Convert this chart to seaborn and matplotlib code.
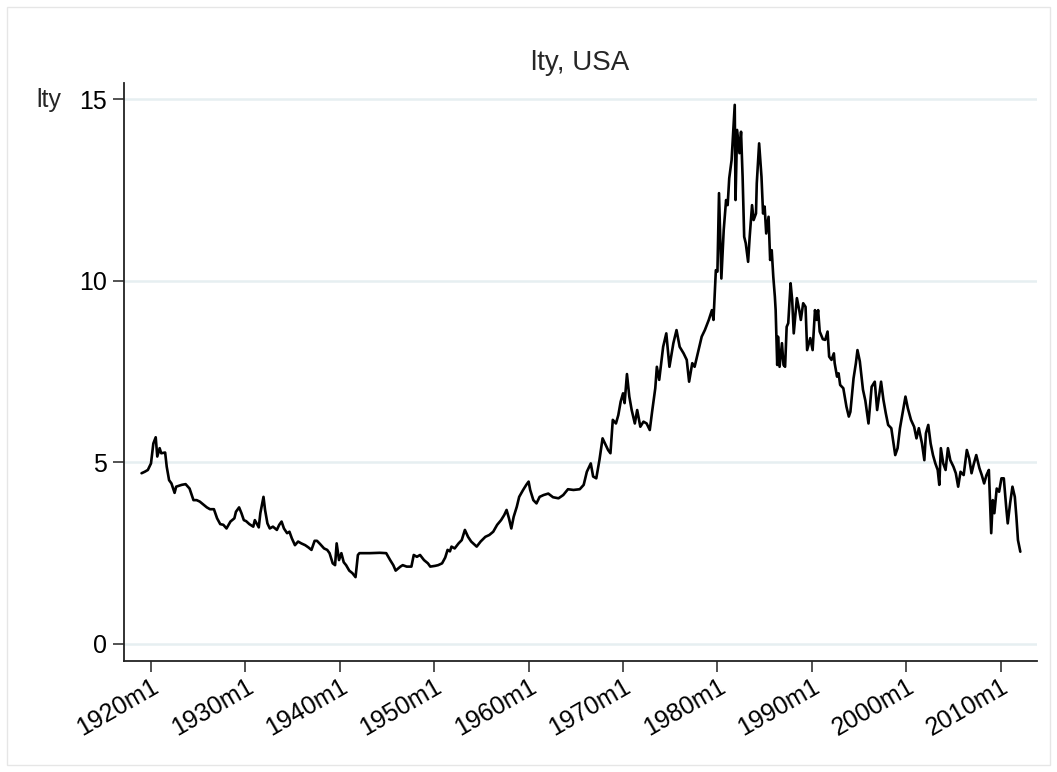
import numpy as np
import pandas as pd
import matplotlib
matplotlib.use("Agg")
import matplotlib.pyplot as plt
from matplotlib.patches import Rectangle
from matplotlib.ticker import FuncFormatter, FixedLocator
import seaborn as sns

# Long-term government bond yield, USA (percent), sampled months
dates = [
    "1919-01", "1919-05", "1919-09", "1920-01", "1920-04", "1920-07", "1920-09", "1920-12",
    "1921-02", "1921-07", "1921-09", "1921-12", "1922-03", "1922-07", "1922-09", "1923-04",
    "1923-09", "1924-02", "1924-07", "1924-11", "1925-03", "1925-08", "1925-12", "1926-04",
    "1926-09", "1927-01", "1927-05", "1927-09", "1928-01", "1928-06", "1928-11", "1929-01",
    "1929-05", "1929-08", "1929-11", "1930-02", "1930-06", "1930-11", "1931-01", "1931-06",
    "1931-08", "1931-12", "1932-02", "1932-05", "1932-08", "1932-12", "1933-05", "1933-08",
    "1933-11", "1934-02", "1934-06", "1934-09", "1934-12", "1935-04", "1935-08", "1935-12",
    "1936-05", "1936-09", "1937-01", "1937-05", "1937-08", "1937-12", "1938-05", "1938-09",
    "1938-12", "1939-04", "1939-07", "1939-09", "1939-12", "1940-03", "1940-06", "1940-09",
    "1941-01", "1941-05", "1941-09", "1941-12", "1942-02", "1943-03", "1944-04", "1944-12",
    "1945-05", "1945-09", "1945-12", "1946-06", "1946-09", "1947-02", "1947-08", "1947-11",
    "1948-03", "1948-07", "1948-12", "1949-05", "1949-08", "1950-02", "1950-06", "1950-11",
    "1951-03", "1951-06", "1951-09", "1951-11", "1952-03", "1952-08", "1952-12", "1953-04",
    "1953-08", "1953-12", "1954-07", "1954-12", "1955-06", "1955-11", "1956-04", "1956-09",
    "1957-02", "1957-06", "1957-09", "1957-12", "1958-03", "1958-06", "1958-10", "1959-01",
    "1959-06", "1959-10", "1960-01", "1960-03", "1960-07", "1960-11", "1961-03", "1961-08",
    "1962-02", "1962-08", "1963-03", "1963-09", "1964-03", "1964-10", "1965-06", "1965-11",
    "1966-03", "1966-08", "1966-11", "1967-03", "1967-07", "1967-11", "1968-02", "1968-06",
    "1968-09", "1968-12", "1969-04", "1969-07", "1969-10", "1970-01", "1970-03", "1970-06",
    "1970-09", "1970-12", "1971-04", "1971-07", "1971-11", "1972-03", "1972-07", "1972-11",
    "1973-02", "1973-06", "1973-08", "1973-11", "1974-04", "1974-08", "1974-12", "1975-05",
    "1975-09", "1976-01", "1976-06", "1976-10", "1977-01", "1977-05", "1977-08", "1978-01",
    "1978-05", "1978-09", "1979-02", "1979-06", "1979-08", "1979-11", "1980-01", "1980-03",
    "1980-06", "1980-09", "1980-12", "1981-02", "1981-04", "1981-07", "1981-09", "1981-11",
    "1981-12", "1982-02", "1982-05", "1982-07", "1982-09", "1982-11", "1983-01", "1983-04",
    "1983-06", "1983-09", "1983-11", "1984-02", "1984-03", "1984-06", "1984-09", "1984-11",
    "1985-01", "1985-03", "1985-06", "1985-08", "1985-10", "1985-12", "1986-02", "1986-03",
    "1986-05", "1986-06", "1986-08", "1986-11", "1987-01", "1987-03", "1987-05", "1987-07",
    "1987-10", "1987-12", "1988-02", "1988-06", "1988-09", "1988-11", "1989-02", "1989-05",
    "1989-07", "1989-11", "1990-02", "1990-05", "1990-07", "1990-09", "1990-11", "1991-03",
    "1991-06", "1991-09", "1991-11", "1992-02", "1992-05", "1992-06", "1992-09", "1992-11",
    "1993-01", "1993-05", "1993-09", "1993-12", "1994-02", "1994-06", "1994-09", "1994-11",
    "1995-02", "1995-06", "1995-09", "1996-01", "1996-05", "1996-09", "1996-12", "1997-05",
    "1997-08", "1997-11", "1998-02", "1998-06", "1998-11", "1999-02", "1999-05", "1999-09",
    "1999-12", "2000-03", "2000-07", "2000-11", "2001-02", "2001-05", "2001-09", "2001-12",
    "2002-02", "2002-05", "2002-08", "2002-11", "2003-02", "2003-05", "2003-07", "2003-09",
    "2003-12", "2004-03", "2004-06", "2004-09", "2005-01", "2005-04", "2005-07", "2005-10",
    "2006-02", "2006-06", "2006-09", "2006-12", "2007-03", "2007-06", "2007-10", "2008-01",
    "2008-04", "2008-07", "2008-10", "2009-01", "2009-03", "2009-05", "2009-08", "2009-11",
    "2010-02", "2010-05", "2010-08", "2010-10", "2011-01", "2011-04", "2011-07", "2011-09",
    "2011-11", "2012-02",
]

lty = [
    4.70, 4.74, 4.79, 4.97, 5.52, 5.69, 5.16, 5.39,
    5.25, 5.27, 4.88, 4.51, 4.42, 4.16, 4.33, 4.38,
    4.40, 4.28, 3.96, 3.96, 3.92, 3.83, 3.76, 3.71,
    3.71, 3.46, 3.30, 3.28, 3.18, 3.37, 3.46, 3.64,
    3.76, 3.60, 3.41, 3.38, 3.30, 3.23, 3.41, 3.21,
    3.60, 4.05, 3.69, 3.32, 3.18, 3.23, 3.14, 3.28,
    3.37, 3.18, 3.05, 3.09, 2.91, 2.72, 2.82, 2.77,
    2.72, 2.66, 2.59, 2.84, 2.84, 2.75, 2.63, 2.59,
    2.50, 2.22, 2.17, 2.77, 2.31, 2.50, 2.25, 2.17,
    2.02, 1.95, 1.84, 2.45, 2.50, 2.50, 2.51, 2.50,
    2.31, 2.17, 2.02, 2.13, 2.17, 2.13, 2.13, 2.45,
    2.40, 2.45, 2.31, 2.22, 2.13, 2.15, 2.17, 2.22,
    2.38, 2.59, 2.55, 2.68, 2.63, 2.77, 2.86, 3.14,
    2.95, 2.82, 2.68, 2.82, 2.95, 3.00, 3.09, 3.28,
    3.41, 3.55, 3.69, 3.46, 3.18, 3.50, 3.78, 4.05,
    4.24, 4.38, 4.47, 4.24, 3.96, 3.87, 4.05, 4.10,
    4.14, 4.04, 4.01, 4.10, 4.26, 4.24, 4.26, 4.38,
    4.74, 4.97, 4.61, 4.56, 5.06, 5.66, 5.52, 5.34,
    5.25, 6.17, 6.07, 6.30, 6.67, 6.90, 6.63, 7.43,
    6.81, 6.44, 6.07, 6.44, 5.98, 6.12, 6.07, 5.89,
    6.40, 7.04, 7.63, 7.27, 8.18, 8.55, 7.63, 8.28,
    8.64, 8.18, 8.00, 7.82, 7.22, 7.73, 7.63, 8.09,
    8.46, 8.64, 8.92, 9.19, 8.92, 10.29, 10.25, 12.41,
    10.06, 11.40, 12.22, 12.08, 12.82, 13.32, 14.06, 14.84,
    12.22, 14.15, 13.51, 14.10, 12.86, 11.21, 11.03, 10.52,
    11.21, 12.08, 11.67, 11.85, 12.68, 13.78, 12.86, 11.85,
    12.04, 11.30, 11.76, 10.57, 10.84, 10.11, 9.56, 9.19,
    7.68, 8.46, 7.63, 8.28, 7.68, 7.63, 8.73, 8.83,
    9.93, 9.47, 8.55, 9.52, 9.19, 8.92, 9.38, 9.28,
    8.09, 8.42, 8.09, 9.19, 8.92, 9.19, 8.60, 8.39,
    8.37, 8.60, 7.91, 7.82, 8.00, 7.73, 7.36, 7.45,
    7.13, 7.04, 6.53, 6.26, 6.39, 7.31, 7.73, 8.09,
    7.78, 7.00, 6.70, 6.07, 7.08, 7.22, 6.44, 7.22,
    6.72, 6.35, 6.03, 5.94, 5.20, 5.39, 5.94, 6.44,
    6.81, 6.49, 6.17, 5.98, 5.66, 5.94, 5.52, 5.06,
    5.80, 6.03, 5.52, 5.20, 4.97, 4.79, 4.38, 5.39,
    4.97, 4.79, 5.39, 5.06, 4.88, 4.70, 4.33, 4.74,
    4.65, 5.34, 5.11, 4.70, 4.97, 5.20, 4.84, 4.65,
    4.42, 4.65, 4.79, 3.05, 3.96, 3.60, 4.28, 4.19,
    4.56, 4.56, 3.78, 3.32, 3.87, 4.33, 4.05, 3.50,
    2.86, 2.54,
]

x_tick_years = [1920, 1930, 1940, 1950, 1960, 1970, 1980, 1990, 2000, 2010]
y_ticks = [0, 5, 10, 15]


def to_monthly(s):
    """Monthly index counted from 1960m1 (Stata %tm convention)."""
    y, m = s.split("-")
    return (int(y) - 1960) * 12 + int(m) - 1


def tm_label(v, _pos=None):
    v = int(round(v))
    return f"{1960 + v // 12}m{v % 12 + 1}"


df = pd.DataFrame({"month": [to_monthly(d) for d in dates], "lty": lty})

sns.set_theme(style="white")
plt.rcParams["font.family"] = ["Liberation Sans", "DejaVu Sans"]

fig = plt.figure(figsize=(10.57, 7.72), dpi=100)
fig.patch.set_facecolor("white")
ax = fig.add_axes([124 / 1057, 1 - 660.7 / 772, (1037 - 124) / 1057, (660.7 - 82.7) / 772])

# light outer frame around the graph region
fig.patches.append(Rectangle((7 / 1057, 7 / 772), 1043 / 1057, 758 / 772,
                             transform=fig.transFigure, fill=False,
                             edgecolor="#e6e6e6", linewidth=1.0))

for t in y_ticks:
    ax.axhline(t, color="#e6eff1", linewidth=1.8, zorder=0)

sns.lineplot(data=df, x="month", y="lty", color="black", linewidth=1.9, ax=ax)

ax.set_xlim(-514.3, 646.2)
ax.set_ylim(-0.46, 15.45)

ax.xaxis.set_major_locator(FixedLocator([(y - 1960) * 12 for y in x_tick_years]))
ax.xaxis.set_major_formatter(FuncFormatter(tm_label))
ax.set_yticks(y_ticks)
ax.set_yticklabels([str(t) for t in y_ticks])

for side in ["top", "right"]:
    ax.spines[side].set_visible(False)
for side in ["left", "bottom"]:
    ax.spines[side].set_color("#222222")
    ax.spines[side].set_linewidth(1.3)

ax.tick_params(axis="both", which="major", direction="out", length=8, width=1.3,
               color="#444444", labelsize=18, labelcolor="black")
ax.tick_params(axis="y", pad=4)
ax.tick_params(axis="x", pad=2)
ax.tick_params(left=True, bottom=True)
for lbl in ax.get_xticklabels():
    lbl.set_rotation(30)
    lbl.set_ha("right")
    lbl.set_va("top")
    lbl.set_rotation_mode("anchor")

ax.set_xlabel("")
ax.set_ylabel("")
fig.text(36 / 1057, 1 - 100 / 772, "lty", fontsize=18, ha="left", va="center")
fig.text(580 / 1057, 1 - 63 / 772, "lty, USA", fontsize=20, ha="center", va="center")

fig.savefig("out.png", dpi=100, facecolor="white")
